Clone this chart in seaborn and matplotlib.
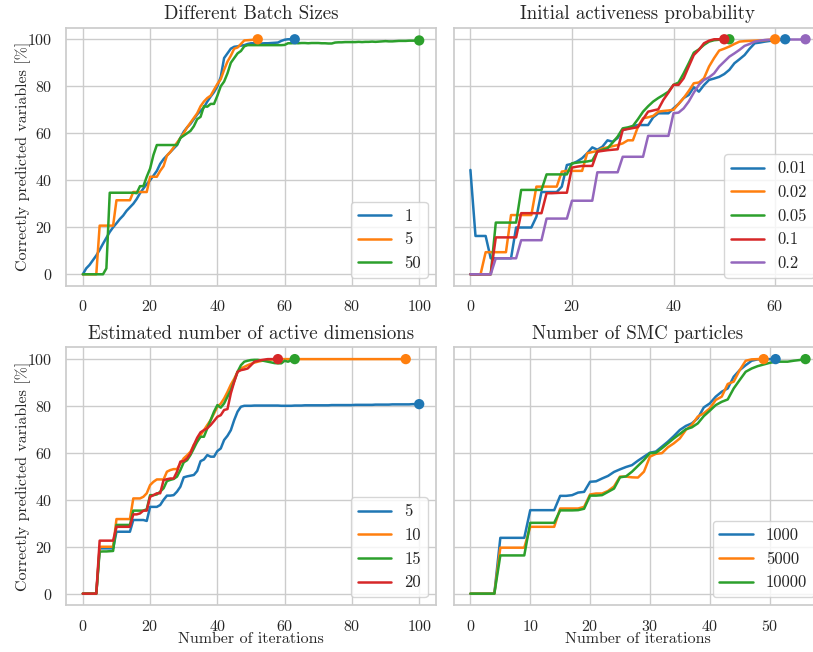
import matplotlib
matplotlib.use("Agg")
import matplotlib.pyplot as plt
import seaborn as sns
import pandas as pd
from matplotlib.ticker import MultipleLocator

# ---------------- data ----------------
titles = ["Different Batch Sizes", "Initial activeness probability",
          "Estimated number of active dimensions", "Number of SMC particles"]

tl_labels = ["1", "5", "50"]
tl_b1 = [0, 2.5, 4, 6, 8, 10.4, 13, 15.5, 18, 20,
         21.7, 23.5, 25, 27, 28.5, 30, 32, 34.5, 36.5, 38.4,
         40, 42, 44, 47, 49, 50.5, 52, 53.5, 55, 58,
         60.7, 62.5, 64, 66, 68, 69.5, 71, 73.5, 75.6, 77.5,
         80, 84, 92, 94, 96, 96.8, 97, 97.3, 97.5, 98,
         98.3, 98.3, 98.3, 98.2, 98.3, 98.3, 98.4, 98.5, 98.6, 99.3,
         99.8, 100, 100, 100]
tl_b5 = [0, 0, 0, 0, 0, 20.7, 20.7, 20.7, 20.7, 20.7,
         31.5, 31.5, 31.5, 31.5, 31.5, 35, 35, 35, 35, 35,
         41.5, 41.5, 41.5, 44, 46, 50.5, 52, 54, 56, 58,
         60, 62.5, 64.5, 66.5, 68.5, 71.5, 73.5, 75, 76, 78.5,
         81, 83, 87, 90.5, 93, 96, 96.5, 98, 99.5, 99.6,
         99.7, 99.8, 100]
tl_b50 = [0, 0, 0, 0, 0, 0, 0, 2.5, 34.7, 34.7,
          34.7, 34.7, 34.7, 34.7, 34.7, 34.7, 34.5, 37.5, 37.5, 41.5,
          45, 50.8, 55, 55, 55, 55, 55, 55, 55, 58,
          59, 60, 61, 63, 66, 67, 71.5, 71.3, 72.5, 72.5,
          76, 80, 82, 85.5, 90, 92, 94, 95, 97, 97.5,
          97.5, 97.5, 97.5, 97.5, 97.5, 97.5, 97.5, 97.5, 97.5, 97.5,
          97.6, 98.3, 98.3, 98.4, 98.3, 98.4, 98.4, 98.3, 98.4, 98.4,
          98.4, 98.3, 98.3, 98.2, 98.2, 98.6, 98.7, 98.7, 98.8, 98.8,
          98.8, 98.8, 98.9, 98.8, 98.9, 98.9, 99, 98.9, 99, 99.1,
          99.2, 99.1, 99.1, 99.2, 99.3, 99.3, 99.3, 99.4, 99.4, 99.4,
          99.5]

tr_labels = ["0.01", "0.02", "0.05", "0.1", "0.2"]
tr_001 = [44.4, 16.3, 16.3, 16.3, 6.8, 6.8, 6.8, 6.8, 6.8, 19.9,
          19.9, 19.9, 19.9, 24.5, 35, 35, 35, 35, 37.3, 46.5,
          47, 48, 49.4, 51.5, 54, 53, 54.3, 57, 56.4, 58,
          61.4, 62, 63, 63.5, 63.5, 63.5, 66.8, 68.5, 68.5, 68.5,
          70.6, 72.5, 75, 76.3, 79.6, 77.7, 80.5, 82.7, 83.3, 84,
          85.2, 87, 89.8, 91.5, 93.3, 96, 98.3, 98.6, 99, 99.3,
          99.5, 99.7, 100]
tr_002 = [0, 0, 0, 9.4, 9.4, 9.4, 9.4, 9.4, 25.2, 25.2,
          25.2, 25.2, 25.2, 37.3, 37.3, 37.3, 37.3, 37.3, 43.7, 44,
          44, 44, 44, 51.5, 52, 52.5, 53.6, 54, 54.5, 55,
          55.7, 57, 57, 62.8, 66.4, 66.8, 67.4, 69.2, 69.5, 69.7,
          70, 72.5, 75, 78, 81.3, 81.6, 83.4, 88.4, 92, 95.2,
          96, 96.9, 98, 99, 99.2, 99.3, 99.4, 99.5, 99.6, 99.8,
          100]
tr_005 = [0, 0, 0, 0, 0, 22, 22, 22, 22, 22,
          35.9, 35.9, 35.9, 35.9, 35.9, 42.5, 42.5, 42.5, 42.5, 42.5,
          47.2, 47.5, 47.8, 48, 48.4, 52.2, 53, 53.6, 56, 58.6,
          62.1, 62.5, 63.1, 66, 69.2, 71.5, 73.5, 75, 76.3, 77.7,
          80.6, 81.6, 85.5, 89.8, 94.3, 95.7, 97.6, 99, 99.6, 99.8,
          100, 100]
tr_01 = [0, 0, 0, 0, 0, 15.7, 15.7, 15.7, 15.7, 15.7,
         26, 26, 26, 26, 26, 34.5, 34.5, 34.6, 34.7, 34.7,
         45.4, 45.8, 46.1, 46.1, 46.1, 52.2, 52.5, 52.8, 53, 53.2,
         61.4, 61.8, 62.2, 62.6, 66, 69.2, 69.7, 70.2, 74.2, 77.3,
         80.6, 80.6, 83.4, 88.4, 93.3, 95.5, 98.3, 99.4, 100, 100,
         100]
tr_02 = [0, 0, 0, 0, 0, 6.8, 6.8, 6.8, 6.8, 6.8,
         14.5, 14.5, 14.5, 14.5, 14.5, 23.7, 23.7, 23.7, 23.7, 23.7,
         31.3, 31.3, 31.3, 31.3, 31.3, 43.4, 43.4, 43.4, 43.4, 43.4,
         50, 50, 50, 50, 50, 58.9, 58.9, 58.9, 58.9, 58.9,
         68.5, 68.8, 70.6, 73.5, 77.3, 80.6, 82.7, 83.8, 85.5, 88.4,
         90.5, 92.6, 94, 95.5, 97.2, 98, 99, 99.4, 99.7, 99.8,
         99.8, 99.9, 99.9, 99.9, 99.9, 99.9, 100]

bl_labels = ["5", "10", "15", "20"]
bl_5 = [0, 0, 0, 0, 0, 19.3, 19.3, 19.3, 19.3, 19.3,
        26.4, 26.4, 26.4, 26.4, 26.4, 31.4, 31.4, 31.4, 31.4, 31,
        37, 37, 37, 37.8, 40, 41.8, 41.8, 42, 43.5, 45.6,
        49.6, 50, 50.3, 50.6, 52.3, 56.5, 57.2, 59.1, 58.4, 58.4,
        60.8, 61.9, 65.5, 67.3, 69.7, 74, 77.6, 79.7, 80.1, 80.1,
        80.1, 80.2, 80.2, 80.2, 80.2, 80.2, 80.2, 80.2, 80.2, 80.1,
        80.1, 80.1, 80.1, 80.2, 80.2, 80.2, 80.3, 80.3, 80.3, 80.3,
        80.3, 80.3, 80.3, 80.3, 80.4, 80.4, 80.4, 80.4, 80.4, 80.4,
        80.4, 80.5, 80.5, 80.5, 80.5, 80.5, 80.5, 80.6, 80.6, 80.6,
        80.6, 80.6, 80.7, 80.7, 80.7, 80.7, 80.7, 80.7, 80.8, 80.8,
        80.8]
bl_10 = [0, 0, 0, 0, 0, 20, 20, 20, 20, 20,
         31.8, 31.8, 31.8, 31.8, 31.8, 40.6, 40.6, 40.6, 41.3, 42.8,
         46.3, 47.7, 48.7, 48.7, 48.7, 52, 52.7, 53.1, 53.1, 55.5,
         57.7, 59, 60.5, 63.4, 64.8, 67.6, 69.7, 71.9, 74, 76.8,
         79.7, 81, 83.2, 86, 89.1, 91.6, 94.6, 96, 96.7, 97.4,
         98, 98.5, 98.9, 99.2, 99.5, 99.7, 99.8, 99.9, 100, 100,
         100, 100, 100, 100, 100, 100, 100, 100, 100, 100,
         100, 100, 100, 100, 100, 100, 100, 100, 100, 100,
         100, 100, 100, 100, 100, 100, 100, 100, 100, 100,
         100, 100, 100, 100, 100, 100, 100]
bl_15 = [0, 0, 0, 0, 0, 17.9, 18, 18, 18.1, 18.2,
         29.3, 29.3, 29.3, 29.3, 29.3, 35.4, 35.4, 35.4, 35.4, 36,
         42, 42, 42.3, 43.5, 44.9, 48, 48.5, 48.9, 49.9, 52.7,
         56, 56.9, 59.1, 61.9, 64.8, 66.9, 66.9, 70.5, 74, 77.6,
         80.4, 79.3, 81.1, 84, 86.8, 90.6, 94.6, 97.4, 98.9, 99.3,
         99.6, 99.7, 99.7, 99.5, 99.2, 98.9, 98.6, 98.3, 98.2, 98.2,
         99.3, 98.9, 99.5, 100]
bl_20 = [0, 0, 0, 0, 0, 22.6, 22.6, 22.6, 22.6, 22.6,
         28.5, 28.5, 28.5, 28.5, 28.5, 33.8, 33.8, 34.2, 35.4, 35.4,
         41.3, 42, 42.8, 42.8, 48.4, 48.8, 49.1, 49.1, 52, 56.3,
         56.5, 57.7, 59.8, 63.4, 66.5, 68.8, 69.7, 70.5, 71.9, 73.6,
         75.4, 76.1, 78.3, 78.7, 85.4, 90.3, 94.6, 95.3, 95.6, 96,
         97.4, 98.9, 99.2, 99.6, 99.8, 100, 100, 100, 100]

br_labels = ["1000", "5000", "10000"]
br_1000 = [0, 0, 0, 0, 0, 23.8, 23.8, 23.8, 23.8, 23.8,
           35.6, 35.6, 35.6, 35.6, 35.6, 41.7, 41.7, 42, 43.1, 43.4,
           47.7, 47.9, 49.1, 50.2, 51.9, 53, 54, 54.8, 56.7, 58.4,
           60.1, 60.6, 62.7, 64.8, 67.2, 69.8, 71.5, 72.6, 74.8, 79.4,
           81.1, 84, 86.1, 87.5, 92.5, 95.3, 97.4, 99.3, 99.9, 99.9,
           100, 100]
br_5000 = [0, 0, 0, 0, 0, 19.6, 19.6, 19.6, 19.6, 19.6,
           28.5, 28.5, 28.5, 28.5, 28.5, 36.3, 36.3, 36.3, 36.3, 37,
           42.3, 42.7, 42.7, 43.8, 45.7, 49.9, 49.9, 49.6, 49.5, 52,
           58.4, 59.6, 59.9, 62.4, 64.1, 66.2, 69.8, 71.9, 75.5, 76.9,
           79, 82.6, 84, 89.4, 90.4, 95.3, 99.3, 99.9, 100, 100]
br_10000 = [0, 0, 0, 0, 0, 16.3, 16.3, 16.3, 16.3, 16.3,
            30.2, 30.2, 30.2, 30.2, 30.2, 35.5, 35.5, 35.5, 35.6, 36.2,
            41.8, 41.8, 42, 43.4, 44.8, 49.6, 50, 52, 54.5, 57,
            59.9, 60.1, 62, 64.1, 66.2, 68.1, 70.1, 70.9, 72.6, 75.7,
            78, 80.4, 81.8, 82.8, 87.5, 91.1, 94.6, 96, 97, 97.7,
            98.4, 98.9, 98.9, 98.9, 99.3, 99.6, 100]

panels = [
    (tl_labels, [tl_b1, tl_b5, tl_b50]),
    (tr_labels, [tr_001, tr_002, tr_005, tr_01, tr_02]),
    (bl_labels, [bl_5, bl_10, bl_15, bl_20]),
    (br_labels, [br_1000, br_5000, br_10000]),
]
x_steps = [20, 20, 20, 10]

# ---------------- style ----------------
sns.set_theme(style="whitegrid")
plt.rcParams["font.family"] = ["cmr10", "DejaVu Serif"]
plt.rcParams["mathtext.fontset"] = "cm"
plt.rcParams["axes.formatter.use_mathtext"] = True
plt.rcParams["axes.unicode_minus"] = False

palette = sns.color_palette("tab10")

fig, axes = plt.subplots(2, 2, figsize=(8.13, 6.52), dpi=100, sharey=True)
axes = axes.ravel()

positions = [
    [0.0812, 0.5613, 0.4551, 0.3965],
    [0.5580, 0.5613, 0.4534, 0.3965],
    [0.0812, 0.0715, 0.4551, 0.3957],
    [0.5580, 0.0715, 0.4534, 0.3957],
]

for k, (ax, (labels, series)) in enumerate(zip(axes, panels)):
    rows = []
    for lab, vals in zip(labels, series):
        for i, v in enumerate(vals):
            rows.append({"iteration": i, "value": v, "label": lab})
    df = pd.DataFrame(rows)
    cols = palette[:len(labels)]
    sns.lineplot(data=df, x="iteration", y="value", hue="label",
                 hue_order=labels, palette=cols, estimator=None,
                 linewidth=1.8, ax=ax)
    last = df.groupby("label", sort=False).tail(1)
    sns.scatterplot(data=last, x="iteration", y="value", hue="label",
                    hue_order=labels, palette=cols, s=55, linewidth=0,
                    legend=False, ax=ax, zorder=4)
    ax.set_title(titles[k], fontsize=13.6)
    ax.xaxis.set_major_locator(MultipleLocator(x_steps[k]))
    ax.yaxis.set_major_locator(MultipleLocator(20))
    ax.tick_params(labelsize=11.5)
    ax.set_xlabel("Number of iterations" if k >= 2 else "", fontsize=11.5,
                  labelpad=-0.7)
    ax.set_ylabel("Correctly predicted variables [%]" if k % 2 == 0 else "",
                  fontsize=11.5, labelpad=-2.5)
    sns.move_legend(ax, "lower right", title=None, fontsize=12)
    ax.set_position(positions[k])

fig.savefig("out.png", dpi=100)
